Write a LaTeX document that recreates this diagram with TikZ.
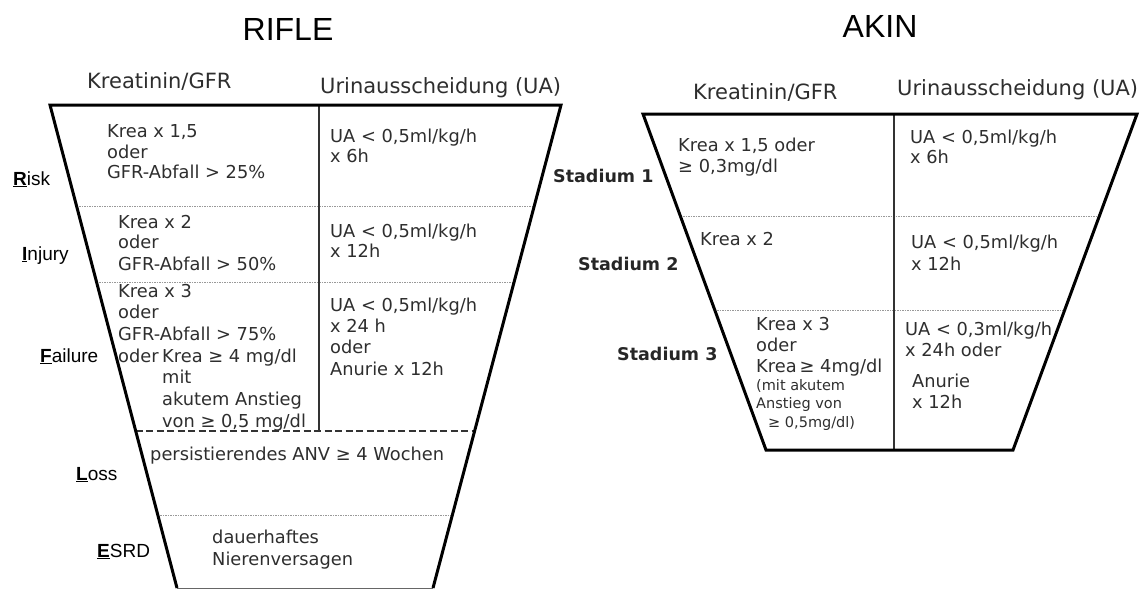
\documentclass[tikz,border=0pt]{standalone}
\usepackage{fontspec}
\setmainfont{DejaVu Sans}
\newfontfamily\arialf{Liberation Sans}
\usetikzlibrary{calc}
\begin{document}
\begin{tikzpicture}[x=1pt,y=-1pt,
  outer/.style={line width=3pt, line join=miter},
  divider/.style={line width=1.4pt, draw=black!80},
  sepdot/.style={line width=1pt, draw=black!40, dash pattern=on 1.5pt off 1pt},
  sepdash/.style={line width=1.1pt, draw=black!80, dash pattern=on 7pt off 3.5pt},
  txt/.style={anchor=base west, inner sep=0pt, text=black!82, font=\fontsize{17.8}{21}\selectfont},
  atxt/.style={txt, font=\fontsize{17.8}{21}\selectfont},
  small/.style={txt, font=\fontsize{14.5}{17}\selectfont},
  head/.style={anchor=base west, inner sep=0pt, text=black!82, font=\fontsize{21}{25}\selectfont},
  lab/.style={anchor=base west, inner sep=0pt, font=\arialf\fontsize{19}{22}\selectfont},
  stad/.style={anchor=base west, inner sep=0pt, text=black!85, font=\bfseries\fontsize{17.5}{21}\selectfont},
  title/.style={anchor=base, inner sep=0pt, font=\arialf\fontsize{32}{38}\selectfont}]
\useasboundingbox (0,0) rectangle (1147,589);

% ---------------- RIFLE ----------------
\node[title] (rtitle) at (288,40) {RIFLE};
\node[head] (rh1) at (87,88) {Kreatinin/GFR};
\node[head] (rh2) at (320,93) {Urinausscheidung (UA)};

\coordinate (RTL) at (50,105);
\coordinate (RTR) at (561,105);
\coordinate (RBL) at (177,588);
\coordinate (RBR) at (433,588);
\coordinate (RDT) at (319,105);
\coordinate (RDB) at (319,431);

\draw[sepdot] ($(RTL)!{102/483}!(RBL)$) -- ($(RTR)!{102/483}!(RBR)$);
\draw[sepdot] ($(RTL)!{178/483}!(RBL)$) -- ($(RTR)!{178/483}!(RBR)$);
\draw[sepdash] ($(RTL)!{326/483}!(RBL)$) -- ($(RTR)!{326/483}!(RBR)$);
\draw[sepdot] ($(RTL)!{410/483}!(RBL)$) -- ($(RTR)!{410/483}!(RBR)$);
\draw[divider] (RDT) -- (RDB);
\draw[line width=1pt, draw=black!60] (RBL) -- (RBR);
\draw[outer] (RBL) -- (RTL) -- (RTR) -- (RBR);

\node[lab] (lr) at (13,185) {\underline{\textbf{R}}isk};
\node[lab] (li) at (22,260) {\underline{\textbf{I}}njury};
\node[lab] (lf) at (40,362) {\underline{\textbf{F}}ailure};
\node[lab] (ll) at (76,480) {\underline{\textbf{L}}oss};
\node[lab] (le) at (97,557) {\underline{\textbf{E}}SRD};

\node[txt] (r1a) at (107,137) {Krea x 1,5};
\node[txt] (r1b) at (107,158) {oder};
\node[txt] (r1c) at (107,178) {GFR-Abfall > 25\%};
\node[txt] (u1a) at (330,142) {UA < 0,5ml/kg/h};
\node[txt] (u1b) at (330,162) {x 6h};

\node[txt] (r2a) at (118,228) {Krea x 2};
\node[txt] (r2b) at (118,248) {oder};
\node[txt] (r2c) at (118,270) {GFR-Abfall > 50\%};
\node[txt] (u2a) at (330,237) {UA < 0,5ml/kg/h};
\node[txt] (u2b) at (330,257) {x 12h};

\node[txt] (r3a) at (118,297) {Krea x 3};
\node[txt] (r3b) at (118,318) {oder};
\node[txt] (r3c) at (118,340) {GFR-Abfall > 75\%};
\node[txt] (r3d) at (118,362) {oder};
\node[txt] (r3e) at (162,362) {Krea ≥ 4 mg/dl};
\node[txt] (r3f) at (162,383) {mit};
\node[txt] (r3g) at (162,405) {akutem Anstieg};
\node[txt] (r3h) at (162,427) {von ≥ 0,5 mg/dl};
\node[txt] (u3a) at (330,311) {UA < 0,5ml/kg/h};
\node[txt] (u3b) at (330,332) {x 24 h};
\node[txt] (u3c) at (330,353) {oder};
\node[txt] (u3d) at (330,375) {Anurie x 12h};

\node[txt] (r4) at (150,460) {persistierendes ANV ≥ 4 Wochen};
\node[txt] (r5a) at (212,543) {dauerhaftes};
\node[txt] (r5b) at (212,565) {Nierenversagen};

% ---------------- AKIN ----------------
\node[title] (atitle) at (880,37) {AKIN};
\node[head] (ah1) at (693,99) {Kreatinin/GFR};
\node[head] (ah2) at (897,95) {Urinausscheidung (UA)};

\coordinate (ATL) at (643,114);
\coordinate (ATR) at (1137,114);
\coordinate (ABL) at (766,450);
\coordinate (ABR) at (1013,450);
\coordinate (ADT) at (894,114);
\coordinate (ADB) at (894,450);

\draw[sepdot] ($(ATL)!{103/336}!(ABL)$) -- ($(ATR)!{103/336}!(ABR)$);
\draw[sepdot] ($(ATL)!{196/336}!(ABL)$) -- ($(ATR)!{196/336}!(ABR)$);
\draw[divider] (ADT) -- (ADB);
\draw[outer] (ATL) -- (ATR) -- (ABR) -- (ABL) -- cycle;

\node[stad] (s1) at (553,182) {Stadium 1};
\node[stad] (s2) at (578,270) {Stadium 2};
\node[stad] (s3) at (617,360) {Stadium 3};

\node[atxt] (a1a) at (678,151) {Krea x 1,5 oder};
\node[atxt] (a1b) at (678,172) {≥ 0,3mg/dl};
\node[atxt] (v1a) at (910,143) {UA < 0,5ml/kg/h};
\node[atxt] (v1b) at (910,163) {x 6h};

\node[atxt] (a2) at (700,245) {Krea x 2};
\node[atxt] (v2a) at (911,248) {UA < 0,5ml/kg/h};
\node[atxt] (v2b) at (911,270) {x 12h};

\node[atxt] (a3a) at (756,330) {Krea x 3};
\node[atxt] (a3b) at (756,351) {oder};
\node[atxt] (a3c) at (756,372) {Krea\,≥ 4mg/dl};
\node[small] (a3d) at (756,390) {(mit akutem};
\node[small] (a3e) at (756,408) {Anstieg von};
\node[small] (a3f) at (768,427) {≥ 0,5mg/dl)};
\node[atxt] (v3a) at (905,335) {UA < 0,3ml/kg/h};
\node[atxt] (v3b) at (905,356) {x 24h oder};
\node[atxt] (v3c) at (912,387) {Anurie};
\node[atxt] (v3d) at (912,408) {x 12h};
\end{tikzpicture}
\end{document}
